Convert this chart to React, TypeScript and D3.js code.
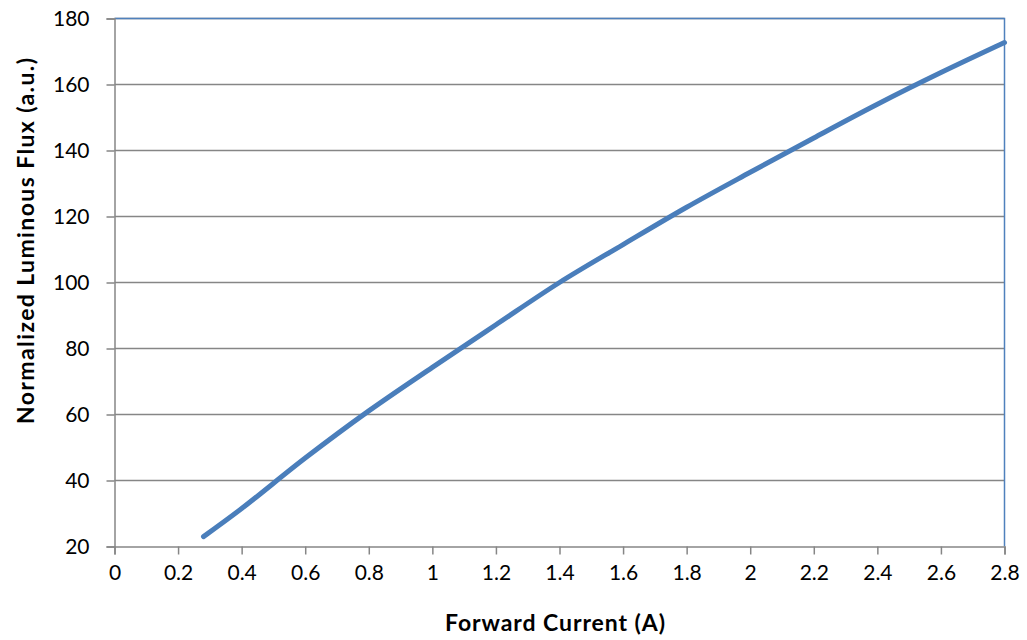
import React, { useEffect, useRef } from 'react';
import * as d3 from 'd3';

// forward current (A) vs normalized flux (a.u.)
const currents = [0.28, 0.4, 0.6, 0.8, 1.0, 1.2, 1.4, 1.6, 1.8, 2.0, 2.2, 2.4, 2.6, 2.8];
const flux = [23, 31.5, 46.8, 61.1, 74.3, 87.2, 100, 111.5, 122.8, 133.4, 143.8, 154, 163.6, 172.7];

const xTicks = [0, 0.2, 0.4, 0.6, 0.8, 1, 1.2, 1.4, 1.6, 1.8, 2, 2.2, 2.4, 2.6, 2.8];
const yTicks = [20, 40, 60, 80, 100, 120, 140, 160, 180];

const xTitle = "Forward Current (A)";
const yTitle = "Normalized Luminous Flux (a.u.)";

const App: React.FC = () => {
    const ref = useRef<SVGSVGElement>(null);

    useEffect(() => {
        document.body.style.margin = "0";
        const width = 1027;
        const height = 640;
        const left = 114.5;
        const right = 1004.5;
        const top = 18.5;
        const bottom = 546.5;
        const font = "Lato, 'Open Sans', sans-serif";

        const svg = d3.select(ref.current);
        svg.selectAll("*").remove();
        svg.attr("width", width).attr("height", height);

        const x = d3.scaleLinear().domain([0, 2.8]).range([left, right]);
        const y = d3.scaleLinear().domain([20, 180]).range([bottom, top]);

        // gridlines
        svg.append("g")
            .selectAll("line")
            .data(yTicks.slice(1))
            .enter()
            .append("line")
            .attr("x1", left)
            .attr("x2", right)
            .attr("y1", d => y(d))
            .attr("y2", d => y(d))
            .attr("stroke", "#868686")
            .attr("stroke-width", 1.5);

        // top / right border
        svg.append("path")
            .attr("d", `M${left},${top}H${right}V${bottom}`)
            .attr("fill", "none")
            .attr("stroke", "#4F81BD")
            .attr("stroke-width", 1.5);

        // x axis
        const gx = svg.append("g")
            .attr("transform", `translate(0, ${bottom})`)
            .call(d3.axisBottom(x).tickValues(xTicks).tickSize(8).tickPadding(11).tickFormat(d => String(d)));
        gx.select(".domain").attr("stroke", "#868686").attr("stroke-width", 1.5);
        gx.selectAll(".tick line").attr("stroke", "#868686").attr("stroke-width", 1.5);
        gx.selectAll("text")
            .attr("font-family", font)
            .attr("font-size", 21)
            .attr("fill", "#000");

        // y axis
        const gy = svg.append("g")
            .attr("transform", `translate(${left}, 0)`)
            .call(d3.axisLeft(y).tickValues(yTicks).tickSize(8).tickPadding(17));
        gy.select(".domain").attr("stroke", "#868686").attr("stroke-width", 1.5);
        gy.selectAll(".tick line").attr("stroke", "#868686").attr("stroke-width", 1.5);
        gy.selectAll("text")
            .attr("font-family", font)
            .attr("font-size", 21)
            .attr("fill", "#000");

        // series
        const line = d3.line<number>()
            .x((_, i) => x(currents[i]))
            .y(d => y(d))
            .curve(d3.curveCatmullRom);
        svg.append("path")
            .datum(flux)
            .attr("d", line)
            .attr("fill", "none")
            .attr("stroke", "#4A7EBB")
            .attr("stroke-width", 5)
            .attr("stroke-linecap", "round");

        // titles
        svg.append("text")
            .attr("x", 555)
            .attr("y", 631)
            .attr("text-anchor", "middle")
            .attr("font-family", font)
            .attr("font-weight", "bold")
            .attr("font-size", 23)
            .attr("textLength", 220)
            .attr("lengthAdjust", "spacing")
            .text(xTitle);

        svg.append("text")
            .attr("transform", `translate(34, 241) rotate(-90)`)
            .attr("text-anchor", "middle")
            .attr("font-family", font)
            .attr("font-weight", "bold")
            .attr("font-size", 23)
            .attr("textLength", 366)
            .attr("lengthAdjust", "spacing")
            .text(yTitle);
    }, []);

    return <svg ref={ref} style={{ display: "block", background: "#fff" }} />;
};

export default App;
